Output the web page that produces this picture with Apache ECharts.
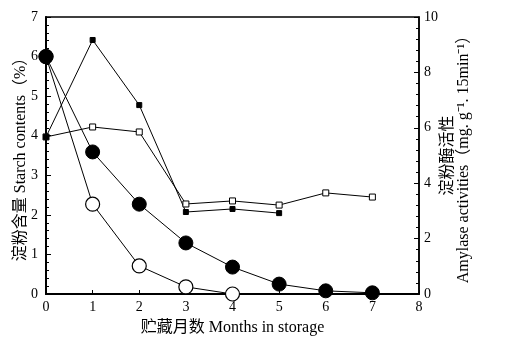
<!DOCTYPE html>
<html>
<head>
<meta charset="utf-8">
<script src="https://cdn.jsdelivr.net/npm/echarts@6/dist/echarts.min.js"></script>
<style>
html,body{margin:0;padding:0;background:#fff;}
#chart{width:506px;height:349px;}
</style>
</head>
<body>
<div id="chart"></div>
<script>
// Data
var months = [0, 1, 2, 3, 4, 5, 6, 7];
var starchFilled = [6.0, 3.59, 2.27, 1.29, 0.68, 0.25, 0.08, 0.03];
var starchOpen = [6.0, 2.27, 0.71, 0.18, 0.0];
var amylaseFilled = [5.67, 9.17, 6.82, 2.96, 3.07, 2.92];
var amylaseOpen = [5.67, 6.03, 5.85, 3.25, 3.36, 3.21, 3.65, 3.5];

var xName = '贮藏月数 Months in storage';
var leftName = '淀粉含量 Starch contents（%）';
var rightName = '淀粉酶活性\nAmylase activities（mg. g⁻¹. 15min⁻¹）';

function pairs(vals) {
  return vals.map(function (v, i) { return [months[i], v]; });
}

var FONT = '"Liberation Serif", "Noto Sans CJK SC", serif';
var chart = echarts.init(document.getElementById('chart'), null, {renderer: 'canvas'});

var lineStyle = {color: '#000', width: 1};
var option = {
  animation: false,
  backgroundColor: '#fff',
  grid: {left: 46, right: 87, top: 17, bottom: 55, show: true, borderColor: '#000', borderWidth: 1.5},
  xAxis: {
    type: 'value', min: 0, max: 8, interval: 1,
    name: xName, nameLocation: 'middle', nameGap: 26, nameMoveOverlap: false,
    nameTextStyle: {fontFamily: FONT, fontSize: 16, color: '#000'},
    axisLine: {lineStyle: {color: '#000', width: 2}},
    axisTick: {inside: true, length: 4, lineStyle: {color: '#000'}},
    axisLabel: {fontFamily: FONT, fontSize: 14, color: '#000', margin: 6},
    splitLine: {show: false}
  },
  yAxis: [{
    type: 'value', min: 0, max: 7, interval: 1, position: 'left',
    name: leftName, nameLocation: 'middle', nameGap: 17, nameRotate: 90, nameMoveOverlap: false,
    nameTextStyle: {fontFamily: FONT, fontSize: 16, color: '#000'},
    axisLine: {show: true, lineStyle: {color: '#000', width: 2}},
    axisTick: {inside: true, length: 5, lineStyle: {color: '#000'}},
    minorTick: {show: true, splitNumber: 5, length: 3, lineStyle: {color: '#000'}},
    axisLabel: {fontFamily: FONT, fontSize: 14, color: '#000', margin: 8},
    splitLine: {show: false}
  }, {
    type: 'value', min: 0, max: 10, interval: 2, position: 'right',
    name: rightName, nameLocation: 'middle', nameGap: 21, nameRotate: 90, nameMoveOverlap: false,
    nameTextStyle: {fontFamily: FONT, fontSize: 16, color: '#000', lineHeight: 16},
    axisLine: {show: true, lineStyle: {color: '#000', width: 1.5}},
    axisTick: {inside: true, length: 5, lineStyle: {color: '#000'}},
    minorTick: {show: true, splitNumber: 5, length: 3, lineStyle: {color: '#000'}},
    axisLabel: {fontFamily: FONT, fontSize: 14, color: '#000', margin: 5},
    splitLine: {show: false}
  }],
  series: [{
    type: 'line', yAxisIndex: 0, data: pairs(starchOpen),
    symbol: 'circle', symbolSize: 14, clip: false,
    lineStyle: lineStyle,
    itemStyle: {color: '#fff', borderColor: '#000', borderWidth: 1.2}
  }, {
    type: 'line', yAxisIndex: 0, data: pairs(starchFilled),
    symbol: 'circle', symbolSize: 14, clip: false,
    lineStyle: lineStyle,
    itemStyle: {color: '#000', borderColor: '#000', borderWidth: 1}
  }, {
    type: 'line', yAxisIndex: 1, data: pairs(amylaseOpen),
    symbol: 'rect', symbolSize: 6, clip: false,
    lineStyle: lineStyle,
    itemStyle: {color: '#fff', borderColor: '#000', borderWidth: 1}
  }, {
    type: 'line', yAxisIndex: 1, data: pairs(amylaseFilled),
    symbol: 'rect', symbolSize: 5, clip: false,
    lineStyle: lineStyle,
    itemStyle: {color: '#000', borderColor: '#000', borderWidth: 1}
  }]
};
chart.setOption(option);
</script>
</body>
</html>
